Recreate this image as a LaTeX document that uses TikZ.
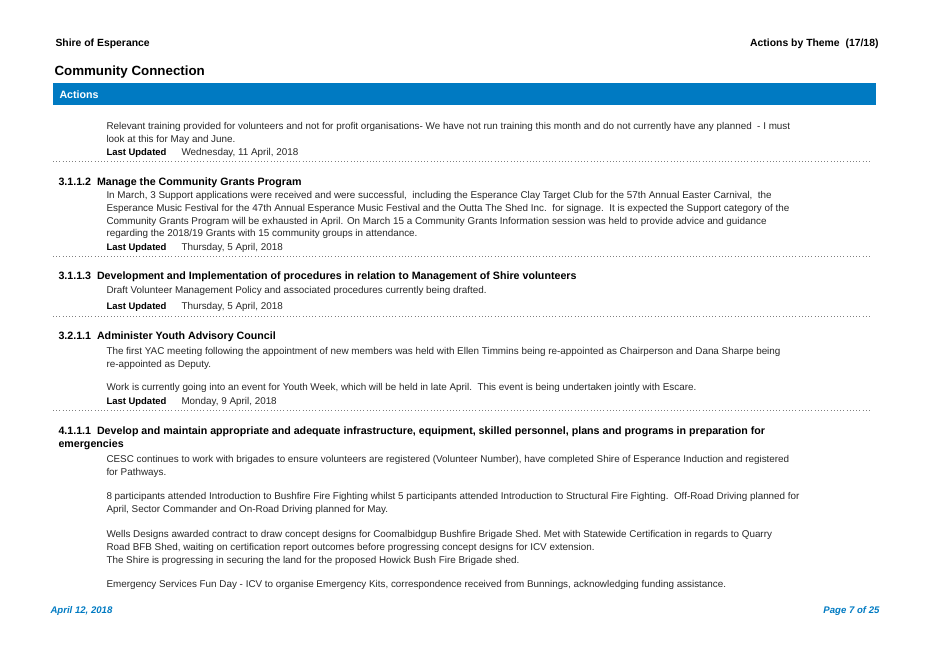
\documentclass[tikz,border=0pt]{standalone}
\usepackage{fontspec}
\setmainfont{Liberation Sans}
\definecolor{barblue}{RGB}{0,122,194}
\definecolor{bodygrey}{RGB}{40,40,40}
\tikzset{
  every picture/.style={line width=0.75pt},
  txt/.style={anchor=base west,inner sep=0pt,font=\fontsize{7.4}{8}\selectfont,text=bodygrey},
  head/.style={anchor=base west,inner sep=0pt,font=\fontsize{8}{9}\selectfont\bfseries},
  lbl/.style={anchor=base west,inner sep=0pt,font=\fontsize{7.1}{8}\selectfont\bfseries},
  sep/.style={dotted,line width=0.4pt,draw=gray},
  foot/.style={inner sep=0pt,font=\fontsize{7.2}{8}\selectfont\bfseries\itshape,text=barblue}
}
\newcommand{\lastupd}[2]{%
  \node[lbl] at (106,#1) {Last Updated};
  \node[txt] at (181,#1) {#2};}
\begin{document}
\begin{tikzpicture}[x=0.75pt,y=0.75pt,yscale=-1,xscale=1]
\useasboundingbox (0,0) rectangle (928,657);
% page header
\node[head,font=\fontsize{7.8}{9}\selectfont\bfseries] (shire) at (55,46) {Shire of Esperance};
\node[head,anchor=base east,font=\fontsize{7.8}{9}\selectfont\bfseries] (theme) at (879,46) {Actions by Theme\ \ (17/18)};
\node[head,font=\fontsize{10}{11}\selectfont\bfseries] (title) at (54,75) {Community Connection};
\fill[barblue] (53,83) rectangle (876,105);
\node[head,text=white] (bar) at (59,98) {Actions};
% first action
\node[txt] at (106,129) {Relevant training provided for volunteers and not for profit organisations- We have not run training this month and do not currently have any planned\ \ - I must};
\node[txt] at (106,142) {look at this for May and June.};
\lastupd{155}{Wednesday, 11 April, 2018}
\draw[sep] (53,161) -- (870,161);
% 3.1.1.2
\node[head] at (58,185) {3.1.1.2\ \ Manage the Community Grants Program};
\node[txt] at (106,198) {In March, 3 Support applications were received and were successful,\ \ including the Esperance Clay Target Club for the 57th Annual Easter Carnival,\ \ the};
\node[txt] at (106,211) {Esperance Music Festival for the 47th Annual Esperance Music Festival and the Outta The Shed Inc.\ \ for signage.\ \ It is expected the Support category of the};
\node[txt] at (106,224) {Community Grants Program will be exhausted in April. On March 15 a Community Grants Information session was held to provide advice and guidance};
\node[txt] at (106,236) {regarding the 2018/19 Grants with 15 community groups in attendance.};
\lastupd{250}{Thursday, 5 April, 2018}
\draw[sep] (53,256) -- (870,256);
% 3.1.1.3
\node[head] at (58,279) {3.1.1.3\ \ Development and Implementation of procedures in relation to Management of Shire volunteers};
\node[txt] at (106,293) {Draft Volunteer Management Policy and associated procedures currently being drafted.};
\lastupd{309}{Thursday, 5 April, 2018}
\draw[sep] (53,316) -- (870,316);
% 3.2.1.1
\node[head] at (58,339) {3.2.1.1\ \ Administer Youth Advisory Council};
\node[txt] at (106,354) {The first YAC meeting following the appointment of new members was held with Ellen Timmins being re-appointed as Chairperson and Dana Sharpe being};
\node[txt] at (106,367) {re-appointed as Deputy.};
\node[txt] at (106,390) {Work is currently going into an event for Youth Week,\ which will be held in late April.\ \ This event is being undertaken jointly with Escare.};
\lastupd{404}{Monday, 9 April, 2018}
\draw[sep] (53,410) -- (870,410);
% 4.1.1.1
\node[head] at (58,434) {4.1.1.1\ \ Develop and maintain appropriate and adequate infrastructure, equipment, skilled personnel, plans and programs in preparation for};
\node[head] at (58,447) {emergencies};
\node[txt] at (106,462) {CESC continues to work with brigades to ensure volunteers are registered (Volunteer Number), have completed Shire of Esperance Induction and registered};
\node[txt] at (106,475) {for Pathways.};
\node[txt] at (106,499) {8 participants attended Introduction to Bushfire Fire Fighting whilst 5 participants attended Introduction to Structural Fire Fighting.\ \ Off-Road Driving planned for};
\node[txt] at (106,512) {April, Sector Commander and On-Road Driving planned for May.};
\node[txt] at (106,537) {Wells Designs awarded contract to draw concept designs for Coomalbidgup Bushfire Brigade Shed.\ Met with Statewide Certification in regards to Quarry};
\node[txt] at (106,550) {Road BFB Shed,\ waiting on certification report outcomes before progressing concept designs for ICV extension.};
\node[txt] at (106,563) {The Shire is progressing in securing the land for the proposed Howick Bush Fire Brigade shed.};
\node[txt] at (106,587) {Emergency Services Fun Day - ICV to organise Emergency Kits, correspondence received from Bunnings,\ acknowledging funding assistance.};
% page footer
\node[foot,anchor=base west] (date) at (50,613) {April 12, 2018};
\node[foot,anchor=base east] (page) at (880,613) {Page 7 of 25};
\end{tikzpicture}
\end{document}
